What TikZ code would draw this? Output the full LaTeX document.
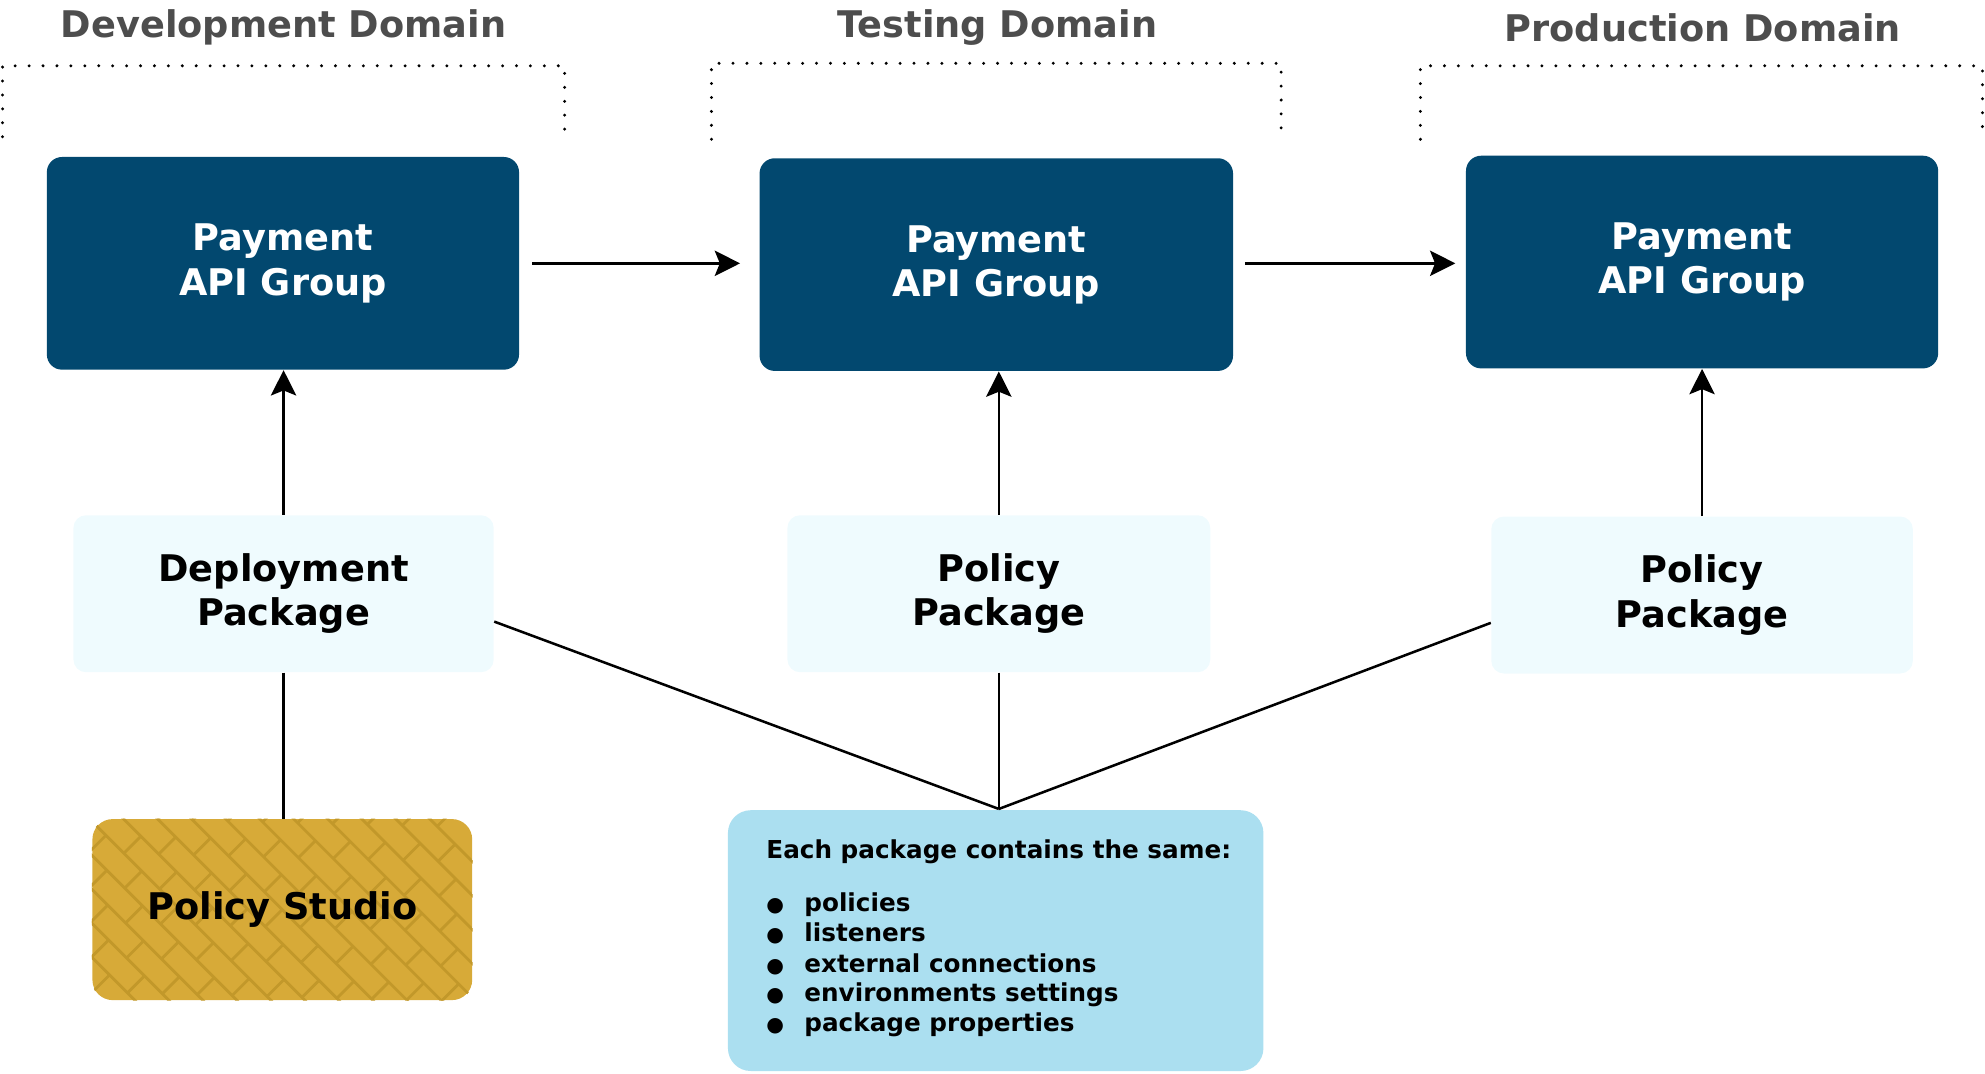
\documentclass[tikz,border=0pt]{standalone}
\usepackage{fontspec}
\setmainfont{DejaVu Sans}
\usetikzlibrary{arrows.meta}
\definecolor{apiblue}{RGB}{2,72,111}
\definecolor{pkgcyan}{RGB}{239,251,254}
\definecolor{infoblue}{RGB}{171,223,240}
\definecolor{gold}{RGB}{215,170,56}
\definecolor{goldline}{RGB}{194,152,42}
\definecolor{titlegray}{RGB}{77,77,77}
\newcommand{\mybul}{\makebox[15pt][l]{{\fontsize{8}{10}\selectfont ●}}}
\begin{document}
\begin{tikzpicture}[x=0.5pt,y=-0.5pt,
  bigfont/.style={font=\bfseries\fontsize{14.5}{17.5}\selectfont},
  paybox/.style={bigfont, fill=apiblue, rounded corners=6pt, text=white, align=center, inner sep=0pt, minimum width=186.5pt, minimum height=84pt},
  pkgbox/.style={bigfont, fill=pkgcyan, rounded corners=5pt, align=center, inner sep=0pt, minimum width=166.5pt, minimum height=62pt},
  domtitle/.style={bigfont, text=titlegray},
  conn/.style={line width=1pt, draw=black},
  arr/.style={conn, -{Stealth[length=10pt,width=10pt,inset=2pt]}},
  domline/.style={line width=1.3pt, dash pattern=on 0pt off 5.5pt, line cap=round},
  brickline/.style={line width=1.1pt, draw=goldline},
  smallfont/.style={font=\bfseries\fontsize{9.75}{11.9}\selectfont},
  listitem/.style={smallfont, anchor=base west, inner sep=0pt}
]
\useasboundingbox (0,0) rectangle (1568,848);

% domain titles
\node[domtitle] (tdev) at (224,22) {Development Domain};
\node[domtitle] (ttest) at (788,22) {Testing Domain};
\node[domtitle] (tprod) at (1345,22) {Production Domain};

% dotted brackets
\draw[domline] (2,108) -- (2,52) -- (446,52) -- (446,108);
\draw[domline] (562,110) -- (562,50) -- (1012,50) -- (1012,102);
\draw[domline] (1122,110) -- (1122,52) -- (1566,52) -- (1566,108);

% API group boxes
\node[paybox] (dp) at (223.5,208) {Payment\\API Group};
\node[paybox, minimum width=187pt] (tp) at (787,209) {Payment\\API Group};
\node[paybox] (pp) at (1344.5,207) {Payment\\API Group};

% package boxes
\node[pkgbox, minimum width=166pt] (dk) at (224,469) {Deployment\\Package};
\node[pkgbox, minimum width=167pt] (tk) at (789,469) {Policy\\Package};
\node[pkgbox] (pk) at (1344.5,470) {Policy\\Package};

% Policy Studio
\node[fill=gold, rounded corners=8pt, inner sep=0pt, minimum width=150pt, minimum height=71.5pt] (ps) at (223,718.5) {};
\begin{scope}
  \clip[rounded corners=8pt] (ps.south west) rectangle (ps.north east);
  \begin{scope}[shift={(ps.center)}, rotate=-45]
    \foreach \i in {-14,...,14} {
      \draw[brickline] (-320,\i*19) -- (320,\i*19);
      \foreach \j in {-9,...,9} {
        \pgfmathsetmacro\xx{\j*40+mod(\i+20,2)*20}
        \draw[brickline] (\xx,\i*19) -- (\xx,\i*19+19);
      }
    }
  \end{scope}
\end{scope}
\node[bigfont, inner sep=0pt] (pslabel) at (ps.center) {Policy Studio};

% info box
\node[fill=infoblue, rounded corners=9pt, inner sep=0pt, minimum width=211.5pt, minimum height=103pt] (info) at (786.5,743) {};
\node[listitem] (hdr) at (605,678) {Each package contains the same:};
\node[listitem] (i1) at (605,720) {\mybul policies};
\node[listitem] (i2) at (605,744) {\mybul listeners};
\node[listitem] (i3) at (605,768) {\mybul external connections};
\node[listitem] (i4) at (605,791) {\mybul environments settings};
\node[listitem] (i5) at (605,815) {\mybul package properties};

% horizontal arrows
\draw[arr, shorten <=5pt, shorten >=7.5pt] (dp.east) -- (dp.east -| tp.west);
\draw[arr, shorten <=4.5pt, shorten >=4pt] (tp.east |- dp.east) -- (pp.west |- dp.east);

% vertical arrows
\draw[arr] (dk.north) -- (dk.north |- dp.south);
\draw[arr] (tk.north) -- (tk.north |- tp.south);
\draw[arr] (pk.north) -- (pk.north |- pp.south);

% lines
\draw[conn] (dk.south) -- (dk.south |- ps.north);
\coordinate (conv) at (789,639);
\draw[conn] ([yshift=-11pt]dk.east) -- (conv);
\draw[conn] (tk.south) -- (conv);
\draw[conn] ([yshift=-11pt]pk.west) -- (conv);
\end{tikzpicture}
\end{document}
